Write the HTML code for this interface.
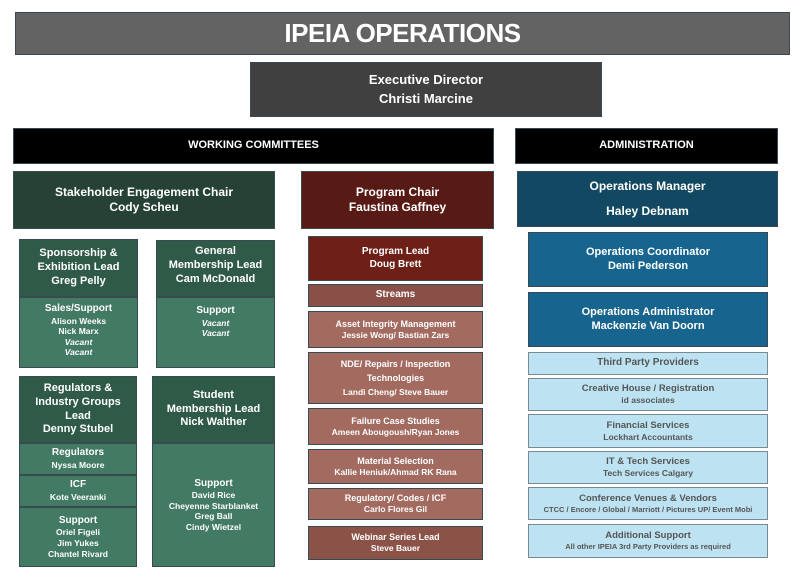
<!DOCTYPE html>
<html><head><meta charset="utf-8"><style>
body{margin:0;width:800px;height:583px;background:#fff;position:relative;overflow:hidden;font-family:"Liberation Sans",sans-serif;font-weight:bold;color:#fff}
.b{position:absolute;box-sizing:border-box;display:flex;flex-direction:column;align-items:center;justify-content:center;text-align:center;border:1px solid #3a4a52;line-height:1.25}
.s{font-size:11px}.t{font-size:10px}.x{font-size:8.5px}
.lb{background:#bde3f3;color:#555;border-color:#7a8a93}
.g1{background:#2f5a47}.g2{background:#427a63}
.i{font-style:italic}
</style></head><body>
<div class="b" style="left:15px;top:12px;width:775px;height:43px;background:#636363;font-size:26px;letter-spacing:-0.5px">IPEIA OPERATIONS</div>
<div class="b s" style="left:250px;top:62px;width:352px;height:55px;background:#404040;font-size:13px;line-height:1.45">Executive Director<br>Christi Marcine</div>
<div class="b" style="left:13px;top:128px;width:481px;height:36px;background:#000;font-size:11px">WORKING COMMITTEES</div>
<div class="b" style="left:515px;top:128px;width:263px;height:36px;background:#000;font-size:11px">ADMINISTRATION</div>

<div class="b" style="left:13px;top:171px;width:262px;height:58px;background:#264237;font-size:12px">Stakeholder Engagement Chair<br>Cody Scheu</div>
<div class="b" style="left:301px;top:171px;width:193px;height:58px;background:#571a14;font-size:12px">Program Chair<br>Faustina Gaffney</div>
<div class="b" style="left:517px;top:171px;width:261px;height:56px;background:#124861;font-size:12px;line-height:2.1">Operations Manager<br>Haley Debnam</div>

<div class="b g1 s" style="left:19px;top:239px;width:119px;height:58px">Sponsorship &amp;<br>Exhibition Lead<br>Greg Pelly</div>
<div class="b g2" style="left:19px;top:297px;width:119px;height:71px;justify-content:flex-start;padding-top:5px"><span class="t">Sales/Support</span><span class="x">Alison Weeks<br>Nick Marx<br><i>Vacant</i><br><i>Vacant</i></span></div>
<div class="b g1 s" style="left:156px;top:240px;width:119px;height:57px;justify-content:flex-start;padding-top:4px">General<br>Membership Lead<br>Cam McDonald</div>
<div class="b g2" style="left:156px;top:297px;width:119px;height:71px;justify-content:flex-start;padding-top:7px"><span class="t">Support</span><span class="x"><i>Vacant</i><br><i>Vacant</i></span></div>

<div class="b g1 s" style="left:19px;top:376px;width:118px;height:67px">Regulators &amp;<br>Industry Groups<br>Lead<br>Denny Stubel</div>
<div class="b g2" style="left:19px;top:443px;width:118px;height:32px"><span class="t">Regulators</span><span class="x">Nyssa Moore</span></div>
<div class="b g2" style="left:19px;top:475px;width:118px;height:32px"><span class="t">ICF</span><span class="x">Kote Veeranki</span></div>
<div class="b g2" style="left:19px;top:507px;width:118px;height:60px"><span class="t">Support</span><span class="x">Oriel Figeli<br>Jim Yukes<br>Chantel Rivard</span></div>
<div class="b g1 s" style="left:152px;top:376px;width:123px;height:67px">Student<br>Membership Lead<br>Nick Walther</div>
<div class="b g2" style="left:152px;top:443px;width:123px;height:124px"><span class="t">Support</span><span class="x">David Rice<br>Cheyenne Starblanket<br>Greg Ball<br>Cindy Wietzel</span></div>

<div class="b t" style="left:308px;top:236px;width:175px;height:45px;background:#6e1f16">Program Lead<br>Doug Brett</div>
<div class="b t" style="left:308px;top:284px;width:175px;height:23px;background:#8a5048">Streams</div>
<div class="b" style="left:308px;top:311px;width:175px;height:37px;background:#a36a60"><span class="x" style="font-size:9px">Asset Integrity Management</span><span class="x">Jessie Wong/ Bastian Zars</span></div>
<div class="b" style="left:308px;top:352px;width:175px;height:52px;background:#a36a60;line-height:1.6"><span class="x" style="font-size:9px">NDE/ Repairs / Inspection<br>Technologies</span><span class="x">Landi Cheng/ Steve Bauer</span></div>
<div class="b" style="left:308px;top:408px;width:175px;height:37px;background:#a36a60"><span class="x" style="font-size:9px">Failure Case Studies</span><span class="x">Ameen Abougoush/Ryan Jones</span></div>
<div class="b" style="left:308px;top:449px;width:175px;height:35px;background:#a36a60"><span class="x" style="font-size:9px">Material Selection</span><span class="x">Kallie Heniuk/Ahmad RK Rana</span></div>
<div class="b" style="left:308px;top:488px;width:175px;height:32px;background:#a36a60"><span class="x" style="font-size:9px">Regulatory/ Codes / ICF</span><span class="x">Carlo Flores Gil</span></div>
<div class="b" style="left:308px;top:526px;width:175px;height:34px;background:#8b5248"><span class="x" style="font-size:9px">Webinar Series Lead</span><span class="x">Steve Bauer</span></div>

<div class="b s" style="left:528px;top:232px;width:240px;height:55px;background:#17658f">Operations Coordinator<br>Demi Pederson</div>
<div class="b s" style="left:528px;top:292px;width:240px;height:55px;background:#17658f">Operations Administrator<br>Mackenzie Van Doorn</div>
<div class="b lb t" style="left:528px;top:352px;width:240px;height:23px">Third Party Providers</div>
<div class="b lb" style="left:528px;top:378px;width:240px;height:33px"><span class="x" style="font-size:9.5px">Creative House / Registration</span><span class="x">id associates</span></div>
<div class="b lb" style="left:528px;top:414px;width:240px;height:34px"><span class="x" style="font-size:9.5px">Financial Services</span><span class="x">Lockhart Accountants</span></div>
<div class="b lb" style="left:528px;top:451px;width:240px;height:33px"><span class="x" style="font-size:9.5px">IT &amp; Tech Services</span><span class="x">Tech Services Calgary</span></div>
<div class="b lb" style="left:528px;top:487px;width:240px;height:33px"><span class="x" style="font-size:9.5px">Conference Venues &amp; Vendors</span><span class="x" style="font-size:7.5px">CTCC / Encore / Global / Marriott / Pictures UP/ Event Mobi</span></div>
<div class="b lb" style="left:528px;top:524px;width:240px;height:34px"><span class="x" style="font-size:9.5px">Additional Support</span><span class="x" style="font-size:7.5px">All other IPEIA 3rd Party Providers as required</span></div>
</body></html>
